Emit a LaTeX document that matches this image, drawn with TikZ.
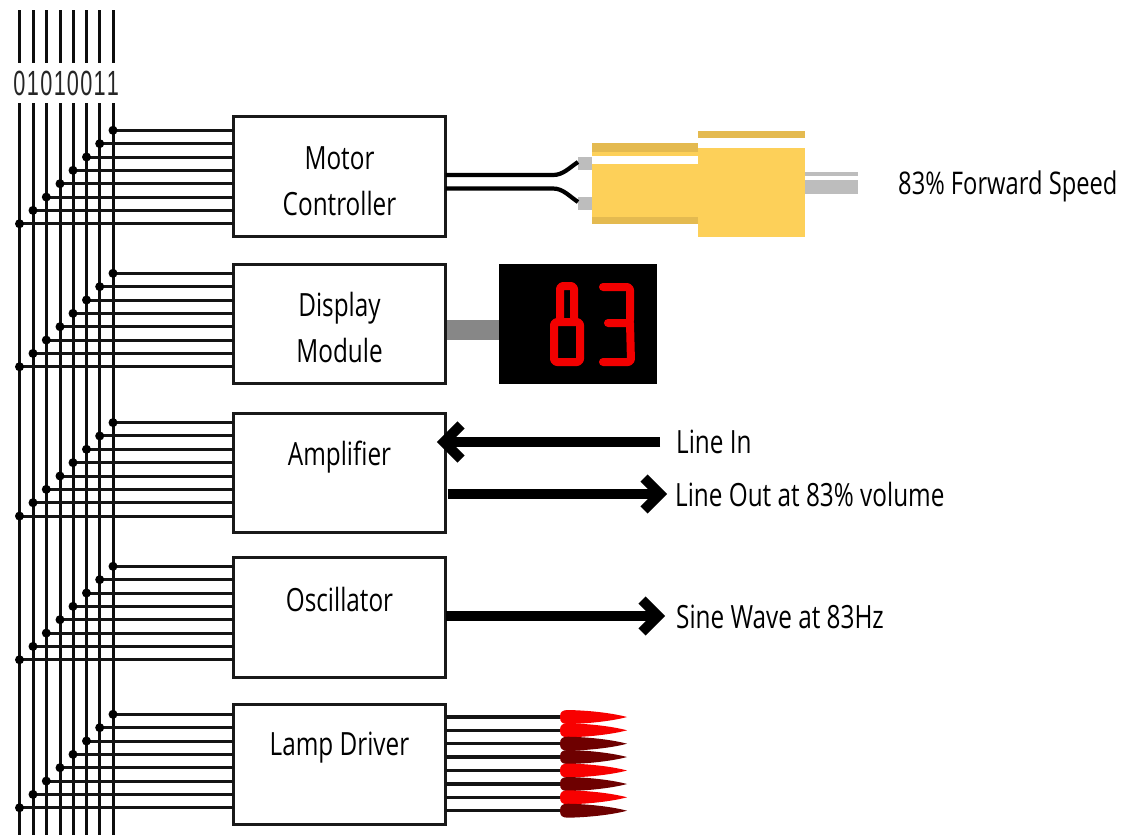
\documentclass[tikz,border=0pt]{standalone}
\usepackage{fontspec}
\setmainfont[FakeStretch=0.76]{Open Sans}
\newfontfamily\bitfont[FakeStretch=0.62]{Liberation Sans}
\definecolor{gold}{HTML}{FDD059}
\definecolor{golddark}{HTML}{E4BA50}
\definecolor{shaft}{HTML}{BDBDBD}
\definecolor{lampoff}{HTML}{6E0000}
\definecolor{lampon}{HTML}{F80000}
\tikzset{
  busline/.style={line width=3pt,black!95},
  stub/.style={line width=3pt,black!92},
  tap/.style={circle,fill=black,inner sep=0pt,minimum size=9pt},
  modbox/.style={draw=black!90,line width=3pt,fill=white,minimum width=212pt,inner sep=0pt,outer sep=0pt,rectangle,anchor=north west},
  boxtext/.style={font=\fontsize{32}{32}\selectfont,inner sep=0pt},
  sidetext/.style={font=\fontsize{32}{32}\selectfont,inner sep=0pt,anchor=west},
  bit/.style={font=\bitfont\fontsize{35}{35}\selectfont,inner sep=0pt,text=black!85},
  fatline/.style={line width=10pt,black},
  chevron/.style={line width=10pt,black,miter limit=10},
  motorwire/.style={line width=4.2pt,black},
  segment/.style={line width=8pt,draw=red!95!black,line cap=round,line join=round,rounded corners=3pt},
}
\begin{document}
\begin{tikzpicture}[x=1pt,y=-1pt]
\useasboundingbox (0,0) rectangle (1121,835);

% bus
\foreach \i/\x/\b in {0/19.5/0,1/33/1,2/46.3/0,3/60/1,4/73/0,5/86.5/0,6/99.7/1,7/113/1}{
  \node[bit] (bit\i) at (\x,83) {\b};
  \coordinate (top\i) at (\x,10);
  \coordinate (end\i) at (\x,63);
  \coordinate (start\i) at (\x,103);
  \coordinate (bottom\i) at (\x,835);
  \draw[busline] (top\i) -- (end\i);
  \draw[busline] (start\i) -- (bottom\i);
}

% modules
\node[modbox,minimum height=120pt] (motor) at (233.5,116.5) {};
\node[modbox,minimum height=119pt] (display) at (233.5,264.5) {};
\node[modbox,minimum height=119pt] (amp) at (233.5,413.5) {};
\node[modbox,minimum height=120pt] (osc) at (233.5,557.5) {};
\node[modbox,minimum height=120pt] (lamp) at (233.5,704.5) {};

\node[boxtext] (t1) at (339.5,158) {Motor};
\node[boxtext] (t2) at (339.5,203) {Controller};
\node[boxtext] (t3) at (339.5,308) {Display};
\node[boxtext] (t4) at (339.5,350) {Module};
\node[boxtext] (t5) at (339.5,457) {Amplifier};
\node[boxtext] (t6) at (339.5,599) {Oscillator};
\node[boxtext] (t7) at (339.5,748) {Lamp Driver};

% taps from bus to modules
\foreach \m/\y in {motor/130.3,display/273.3,amp/422.6,osc/566.3,lamp/714.3}{
  \foreach \i/\k in {7/0,6/1,5/2,4/3,3/4,2/5,1/6,0/7}{
    \coordinate (p) at (top\i |- 0,{\y+13.35*\k});
    \draw[stub] (p) -- (p -| \m.west);
    \node[tap] at (p) {};
  }
}

% motor
\fill[golddark] (592,143) rectangle (698,152);
\fill[gold] (592,152) rectangle (698,156);
\fill[gold] (592,164) rectangle (698,224);
\fill[golddark] (592,217) rectangle (698,224);
\fill[golddark] (698,131) rectangle (805,138);
\fill[gold] (698,148) rectangle (805,237);
\fill[shaft] (805,180) rectangle (858,194);
\fill[shaft] (805,172) rectangle (858,176);
\fill[shaft] (578,157) rectangle (592,170);
\fill[shaft] (578,197) rectangle (592,210);
\coordinate (wa) at (578,162);
\coordinate (wb) at (578,202);
\draw[motorwire] (motor.east |- 0,175) -- (553,175) .. controls (563,175) and (569,168) .. (wa);
\draw[motorwire] (motor.east |- 0,188.5) -- (553,188.5) .. controls (563,188.5) and (569,196) .. (wb);
\node[sidetext,font=\fontsize{31.2}{32}\selectfont] (speed) at (898,186) {83\% Forward Speed};

% display
\node[rectangle,fill=black,minimum width=158pt,minimum height=120pt,inner sep=0pt,outer sep=0pt,anchor=north west] (screen) at (499,264) {};
\draw[line width=20pt,black!47] (display.east |- 0,330) ++(1.5,0) -- (screen.west |- 0,330);
\draw[segment] (554,322) rectangle (580,362);
\draw[segment] (560,322) -- (560,286) -- (574,286) -- (574,322);
\draw[segment] (603,287) -- (630,287) -- (630,323) -- (608,323);
\draw[segment] (630,323) -- (631,362) -- (603,362);

% amplifier and oscillator signals
\node[sidetext] (linein) at (676,442) {Line In};
\node[sidetext] (lineout) at (675,494) {Line Out at 83\% volume};
\node[sidetext] (sine) at (676,617) {Sine Wave at 83Hz};
\coordinate (inend) at (660,442);
\coordinate (intip) at (444,442);
\draw[fatline] (inend) -- (intip);
\draw[chevron] (461,425) -- (intip) -- (461,459);
\coordinate (outtip) at (660,494);
\draw[fatline] (amp.east |- outtip) ++(2,0) -- (outtip);
\draw[chevron] (644,478) -- (outtip) -- (644,510);
\coordinate (sinetip) at (658,616);
\draw[fatline] (osc.east |- sinetip) -- (sinetip);
\draw[chevron] (642,600) -- (sinetip) -- (642,632);

% lamps
\foreach \k/\y/\c in {0/717/lampon,1/730.3/lampon,2/743.7/lampoff,3/757/lampoff,4/770.5/lampon,5/784/lampoff,6/797.3/lampon,7/810.7/lampoff}{
  \coordinate (bulb\k) at (560,\y);
  \draw[stub,line width=3.4pt] (lamp.east |- bulb\k) -- (bulb\k);
  \fill[\c] (bulb\k) ++(0,0)
     .. controls (560,\y-5) and (562,\y-7) .. (568,\y-7)
     .. controls (592,\y-6.5) and (614,\y-3.5) .. (627,\y)
     .. controls (614,\y+3.5) and (592,\y+6.5) .. (568,\y+7)
     .. controls (562,\y+7) and (560,\y+5) .. (560,\y) -- cycle;
}
\end{tikzpicture}
\end{document}
